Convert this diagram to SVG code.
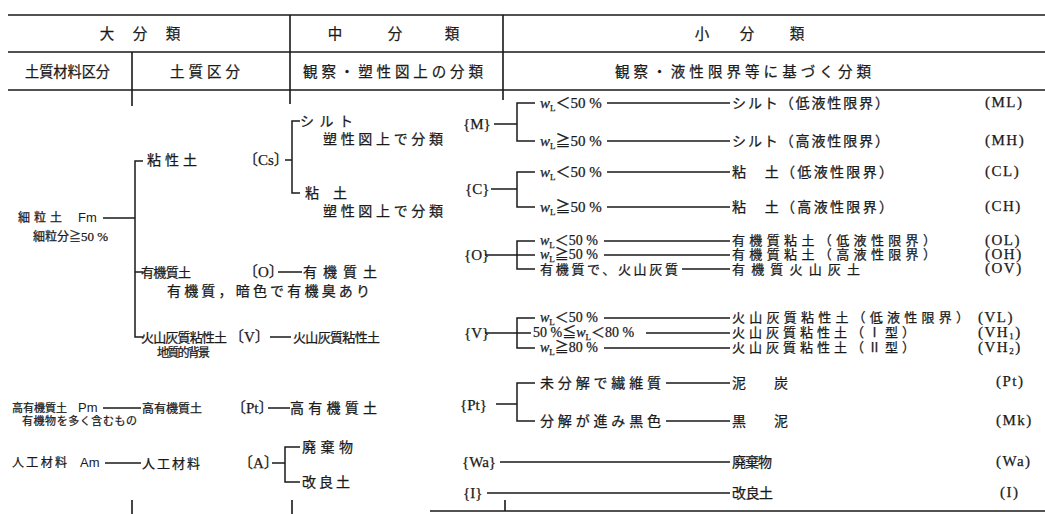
<svg xmlns="http://www.w3.org/2000/svg" width="1045" height="514" viewBox="0 0 1045 514">
<style>
.t{font-family:'Liberation Serif','Noto Sans CJK JP',serif;font-size:14px;fill:#1a1a1a;stroke:#1a1a1a;stroke-width:0.25}
.h{font-size:14.5px}
.a{font-size:13px}
.s{font-size:12px}
.xs{font-size:11px}
.sans{font-family:'Liberation Sans','Noto Sans CJK JP',sans-serif;font-size:13px;fill:#1a1a1a}
.lab{font-size:15px}
.code{font-size:15px;letter-spacing:1.5px}
.w{font-size:15px}
.i{font-style:italic}
.sub{font-size:9px}
.ln{stroke:#1a1a1a;stroke-width:1.5;fill:none}
.tb{stroke:#1a1a1a;stroke-width:1.6;fill:none}
</style>
<rect width="1045" height="514" fill="#fff"/>

<g id="table">
<path class="tb" d="M8 15H1045M8 52H1045M8 90H1045M132 52V106M290 15V104M503 15V100M430 511H1045M132 500V514M292 500V514M505 500V511"/>
<text class="t h" x="107" y="39" text-anchor="middle">大</text>
<text class="t h" x="140" y="39" text-anchor="middle">分</text>
<text class="t h" x="173" y="39" text-anchor="middle">類</text>
<text class="t h" x="335" y="39" text-anchor="middle">中</text>
<text class="t h" x="395" y="39" text-anchor="middle">分</text>
<text class="t h" x="452" y="39" text-anchor="middle">類</text>
<text class="t h" x="702" y="39" text-anchor="middle">小</text>
<text class="t h" x="747" y="39" text-anchor="middle">分</text>
<text class="t h" x="797" y="39" text-anchor="middle">類</text>
<text class="t h" x="25" y="77" textLength="85" lengthAdjust="spacingAndGlyphs">土質材料区分</text>
<text class="t h" x="170" y="77" textLength="70">土質区分</text>
<text class="t h" x="303" y="77" textLength="180">観察・塑性図上の分類</text>
<text class="t h" x="615" y="77" textLength="256">観察・液性限界等に基づく分類</text>
</g>

<g id="connectors">
<path class="ln" d="M103 218H135M143 161H135V337H143M135 272H143"/>
<path class="ln" d="M285 160H292M300 121H292V193H300"/>
<path class="ln" d="M278 272H302M270 337H291"/>
<path class="ln" d="M103 408H141M268 408H290M105 463H141M272 463H285M300 447H285V482H300"/>
<path class="ln" d="M494 124H517M535 103H517V141H535"/>
<path class="ln" d="M491 189H517M535 172H517V207H535"/>
<path class="ln" d="M485 255H535M535 241H517V269H535"/>
<path class="ln" d="M485 333H531M535 318H517V348H535"/>
<path class="ln" d="M496 404H517M535 383H517V421H535"/>
<path class="ln" d="M607 103H730M607 141H730M607 172H730M607 207H730M604 241H730M604 255H730M682 269H730M604 318H730M646 333H730M604 348H730M666 383H730M666 421H730M500 462H730M487 493H730"/>
</g>

<g id="fm">
<text class="t s" x="18" y="222" textLength="44">細粒土</text>
<text class="sans" x="78" y="222">Fm</text>
<text class="t s" x="33" y="241">細粒分≧<tspan font-size="13">50 %</tspan></text>
</g>
<g id="cs">
<text class="t" x="147" y="165" textLength="50">粘性土</text>
<text class="t lab" x="243" y="165">〔Cs〕</text>
</g>
<g id="silt">
<text class="t" x="300" y="126" textLength="53">シルト</text>
<text class="t" x="323" y="144" textLength="120">塑性図上で分類</text>
</g>
<g id="clay">
<text class="t" x="305" y="198" textLength="42">粘　土</text>
<text class="t" x="323" y="216" textLength="120">塑性図上で分類</text>
</g>
<g id="organic">
<text class="t a" x="141" y="277" textLength="50">有機質土</text>
<text class="t lab" x="243" y="277">〔O〕</text>
<text class="t" x="303" y="277" textLength="74">有機質土</text>
<text class="t" x="167" y="296" textLength="203">有機質，暗色で有機臭あり</text>
</g>
<g id="volcanic">
<text class="t a" x="141" y="342" textLength="86">火山灰質粘性土</text>
<text class="t lab" x="229" y="342">〔V〕</text>
<text class="t a" x="293" y="342" textLength="87">火山灰質粘性土</text>
<text class="t s" x="157" y="357" textLength="53">地質的背景</text>
</g>
<g id="pm">
<text class="t xs" x="12" y="412" textLength="55">高有機質土</text>
<text class="sans" x="78" y="412">Pm</text>
<text class="t xs" x="22" y="425" textLength="115">有機物を多く含むもの</text>
<text class="t s" x="142" y="413" textLength="60">高有機質土</text>
<text class="t lab" x="231" y="413">〔Pt〕</text>
<text class="t" x="290" y="413" textLength="87">高有機質土</text>
</g>
<g id="am">
<text class="t s" x="12" y="467" textLength="55">人工材料</text>
<text class="sans" x="80" y="467">Am</text>
<text class="t a" x="142" y="468" textLength="58">人工材料</text>
<text class="t lab" x="238" y="468">〔A〕</text>
<text class="t" x="302" y="452" textLength="51">廃棄物</text>
<text class="t" x="302" y="487" textLength="48">改良土</text>
</g>

<g id="M">
<text class="t lab" x="463" y="129">{M}</text>
<text class="t w" x="540" y="108"><tspan class="i">w</tspan><tspan class="sub" dy="3">L</tspan><tspan dy="-3">＜50 %</tspan></text>
<text class="t w" x="540" y="146"><tspan class="i">w</tspan><tspan class="sub" dy="3">L</tspan><tspan dy="-3">≧50 %</tspan></text>
<text class="t" x="732" y="108" textLength="157">シルト（低液性限界）</text>
<text class="t" x="732" y="146" textLength="157">シルト（高液性限界）</text>
<text class="t code" x="985" y="107">(ML)</text>
<text class="t code" x="985" y="145">(MH)</text>
</g>
<g id="C">
<text class="t lab" x="465" y="194">{C}</text>
<text class="t w" x="540" y="177"><tspan class="i">w</tspan><tspan class="sub" dy="3">L</tspan><tspan dy="-3">＜50 %</tspan></text>
<text class="t w" x="540" y="212"><tspan class="i">w</tspan><tspan class="sub" dy="3">L</tspan><tspan dy="-3">≧50 %</tspan></text>
<text class="t" x="732" y="177" textLength="161">粘　土（低液性限界）</text>
<text class="t" x="732" y="212" textLength="161">粘　土（高液性限界）</text>
<text class="t code" x="985" y="176">(CL)</text>
<text class="t code" x="985" y="211">(CH)</text>
</g>
<g id="O">
<text class="t lab" x="464" y="260">{O}</text>
<text class="t" x="540" y="245"><tspan class="i">w</tspan><tspan class="sub" dy="3">L</tspan><tspan dy="-3">＜50 %</tspan></text>
<text class="t" x="540" y="259"><tspan class="i">w</tspan><tspan class="sub" dy="3">L</tspan><tspan dy="-3">≧50 %</tspan></text>
<text class="t a" x="540" y="274" textLength="138">有機質で、火山灰質</text>
<text class="t a" x="732" y="245" textLength="204">有機質粘土（低液性限界）</text>
<text class="t a" x="732" y="259" textLength="204">有機質粘土（高液性限界）</text>
<text class="t a" x="732" y="274" textLength="128">有機質火山灰土</text>
<text class="t code" x="985" y="245">(OL)</text>
<text class="t code" x="985" y="259">(OH)</text>
<text class="t code" x="985" y="273">(OV)</text>
</g>
<g id="V">
<text class="t lab" x="464" y="338">{V}</text>
<text class="t" x="540" y="322"><tspan class="i">w</tspan><tspan class="sub" dy="3">L</tspan><tspan dy="-3">＜50 %</tspan></text>
<text class="t" x="533" y="337">50 %≦<tspan class="i">w</tspan><tspan class="sub" dy="3">L</tspan><tspan dy="-3">＜80 %</tspan></text>
<text class="t" x="540" y="352"><tspan class="i">w</tspan><tspan class="sub" dy="3">L</tspan><tspan dy="-3">≧80 %</tspan></text>
<text class="t a" x="732" y="322" textLength="237">火山灰質粘性土（低液性限界）</text>
<text class="t a" x="732" y="337" textLength="183">火山灰質粘性土（Ⅰ型）</text>
<text class="t a" x="732" y="352" textLength="183">火山灰質粘性土（Ⅱ型）</text>
<text class="t code" x="978" y="322">(VL)</text>
<text class="t code" x="978" y="337">(VH<tspan class="sub" dy="2">1</tspan><tspan dy="-2">)</tspan></text>
<text class="t code" x="978" y="352">(VH<tspan class="sub" dy="2">2</tspan><tspan dy="-2">)</tspan></text>
</g>
<g id="Pt">
<text class="t lab" x="460" y="410">{Pt}</text>
<text class="t" x="540" y="388" textLength="121">未分解で繊維質</text>
<text class="t" x="540" y="426" textLength="121">分解が進み黒色</text>
<text class="t" x="732" y="388" textLength="56">泥　炭</text>
<text class="t" x="732" y="426" textLength="56">黒　泥</text>
<text class="t code" x="996" y="386">(Pt)</text>
<text class="t code" x="996" y="425">(Mk)</text>
</g>
<g id="Wa">
<text class="t lab" x="462" y="467">{Wa}</text>
<text class="t" x="732" y="467" textLength="40">廃棄物</text>
<text class="t code" x="996" y="466">(Wa)</text>
</g>
<g id="I">
<text class="t lab" x="463" y="498">{I}</text>
<text class="t" x="732" y="498" textLength="41">改良土</text>
<text class="t code" x="1000" y="497">(I)</text>
</g>
</svg>
